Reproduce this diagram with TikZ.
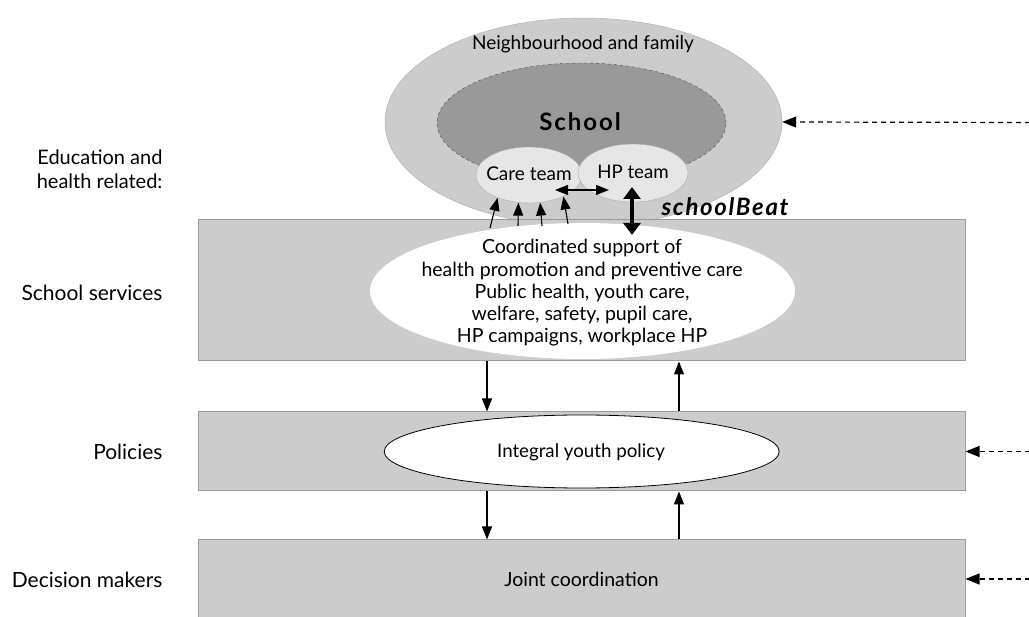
\documentclass[tikz,border=0pt]{standalone}
\usepackage{fontspec}
\setmainfont{Lato}
\usetikzlibrary{shapes.geometric,arrows.meta}
\definecolor{boxgray}{HTML}{CCCCCC}
\definecolor{boxline}{HTML}{9A9A9A}
\definecolor{schoolgray}{HTML}{999999}
\definecolor{teamgray}{HTML}{E6E6E6}
\definecolor{ringline}{HTML}{AAAAAA}
\begin{document}
\begin{tikzpicture}[x=1pt,y=-1pt,
  levelbox/.style={rectangle, draw=boxline, fill=boxgray, line width=1pt, inner sep=0pt},
  oval/.style={ellipse, inner sep=0pt},
  lefttext/.style={anchor=east, align=right, font=\fontsize{21}{25}\selectfont},
  arr/.style={-{Triangle[length=13pt,width=10pt]}, line width=1.1pt},
  dasharr/.style={-{Triangle[length=14pt,width=11pt]}, line width=1.2pt, dash pattern=on 5pt off 4pt},
  thickarr/.style={{Triangle[length=12pt,width=17pt]}-{Triangle[length=12pt,width=17pt]}, line width=4.5pt},
  ]
\clip (0,0) rectangle (1029,617);
\useasboundingbox (0,0) rectangle (1029,617);
\fill[white] (0,0) rectangle (1029,617);

% outer ring and school
\node[oval, draw=ringline, fill=boxgray, minimum width=397pt, minimum height=208pt] (nbh) at (583.5,122) {};
\node[font=\fontsize{19}{22}\selectfont] (nbhtext) at (583,44) {Neighbourhood and family};
\node[oval, draw=black!70, dashed, fill=schoolgray, minimum width=289pt, minimum height=120pt] (school) at (581.5,123) {};
\node[font=\fontsize{24}{27}\bfseries\selectfont\addfontfeature{LetterSpace=8}] (schooltext) at (580,122) {School};
\node[oval, draw=ringline, fill=teamgray, minimum width=106pt, minimum height=56pt] (care) at (529,175) {};
\node[font=\fontsize{19}{22}\selectfont] (caretext) at (529,174) {Care team};
\node[oval, draw=ringline, fill=teamgray, minimum width=110pt, minimum height=58pt] (hp) at (633,173) {};
\node[font=\fontsize{18.7}{22}\selectfont] (hptext) at (633,172) {HP team};

% level boxes
\node[levelbox, minimum width=767pt, minimum height=141pt] (serv) at (581.5,290.5) {};
\node[levelbox, minimum width=767pt, minimum height=79pt] (pol) at (581.5,451.5) {};
\node[levelbox, minimum width=767pt, minimum height=100pt] (dec) at (581.5,590) {};

% inner ovals
\node[oval, fill=white, minimum width=425pt, minimum height=136pt] (coord) at (582.5,291) {};
\node[align=center, font=\fontsize{19.5}{22.3}\selectfont] (coordtext) at (582,293)
  {Coordinated support of\\health promotion and preventive care\\Public health, youth care,\\welfare, safety, pupil care,\\HP campaigns, workplace HP};
\node[oval, draw=black, fill=white, line width=0.8pt, minimum width=395pt, minimum height=73pt] (iyp) at (581.7,451.5) {};
\node[font=\fontsize{18.7}{22}\selectfont] (iyptext) at (581,452) {Integral youth policy};
\node[font=\fontsize{19.5}{22}\selectfont] (jointtext) at (581.5,579) {Joint coordination};

% left labels
\node[lefttext, font=\fontsize{20}{24}\selectfont] (edu) at (166,169) {Education and\\health related:};
\node[lefttext] (servlab) at (166,293) {School services};
\node[lefttext] (pollab) at (166,452) {Policies};
\node[lefttext] (declab) at (166,580) {Decision makers};

% schoolBeat
\node[font=\fontsize{24}{27}\bfseries\itshape\selectfont\addfontfeature{LetterSpace=7}] (sb) at (725,207) {schoolBeat};

% arrows into care team
\coordinate (t1) at (490,228);
\coordinate (t2) at (518,226);
\coordinate (t3) at (542,226);
\coordinate (t4) at (568,224);
\draw[arr] (t1) -- (care.216);
\draw[arr] (t2) -- (care.249);
\draw[arr] (t3) -- (care.292);
\draw[arr] (t4) -- (care.328);

% care <-> hp
\coordinate (dl) at (555,190);
\coordinate (dr) at (609,190);
\draw[arr, {Triangle[length=13pt,width=10pt]}-{Triangle[length=13pt,width=10pt]}] (dl) -- (dr);

% thick schoolBeat arrow
\coordinate (sbt) at (632,187);
\coordinate (sbb) at (632,235);
\draw[thickarr] (sbt) -- (sbb);

% between levels
\coordinate (cl) at (487,0);
\coordinate (cr) at (679,0);
\draw[arr] (serv.south -| cl) -- (pol.north -| cl);
\draw[arr] (pol.north -| cr) -- (serv.south -| cr);
\draw[arr] (pol.south -| cl) -- (dec.north -| cl);
\draw[arr] (dec.north -| cr) -- (pol.south -| cr);

% dashed arrows from the right
\coordinate (e1) at (1030,122.5);
\coordinate (e2) at (1030,451.5);
\coordinate (e3) at (1030,579);
\draw[dasharr] (e1) -- (nbh.east);
\draw[dasharr] (e2) -- (pol.east);
\draw[dasharr] (e3) -- (e3 -| dec.east);
\end{tikzpicture}
\end{document}
